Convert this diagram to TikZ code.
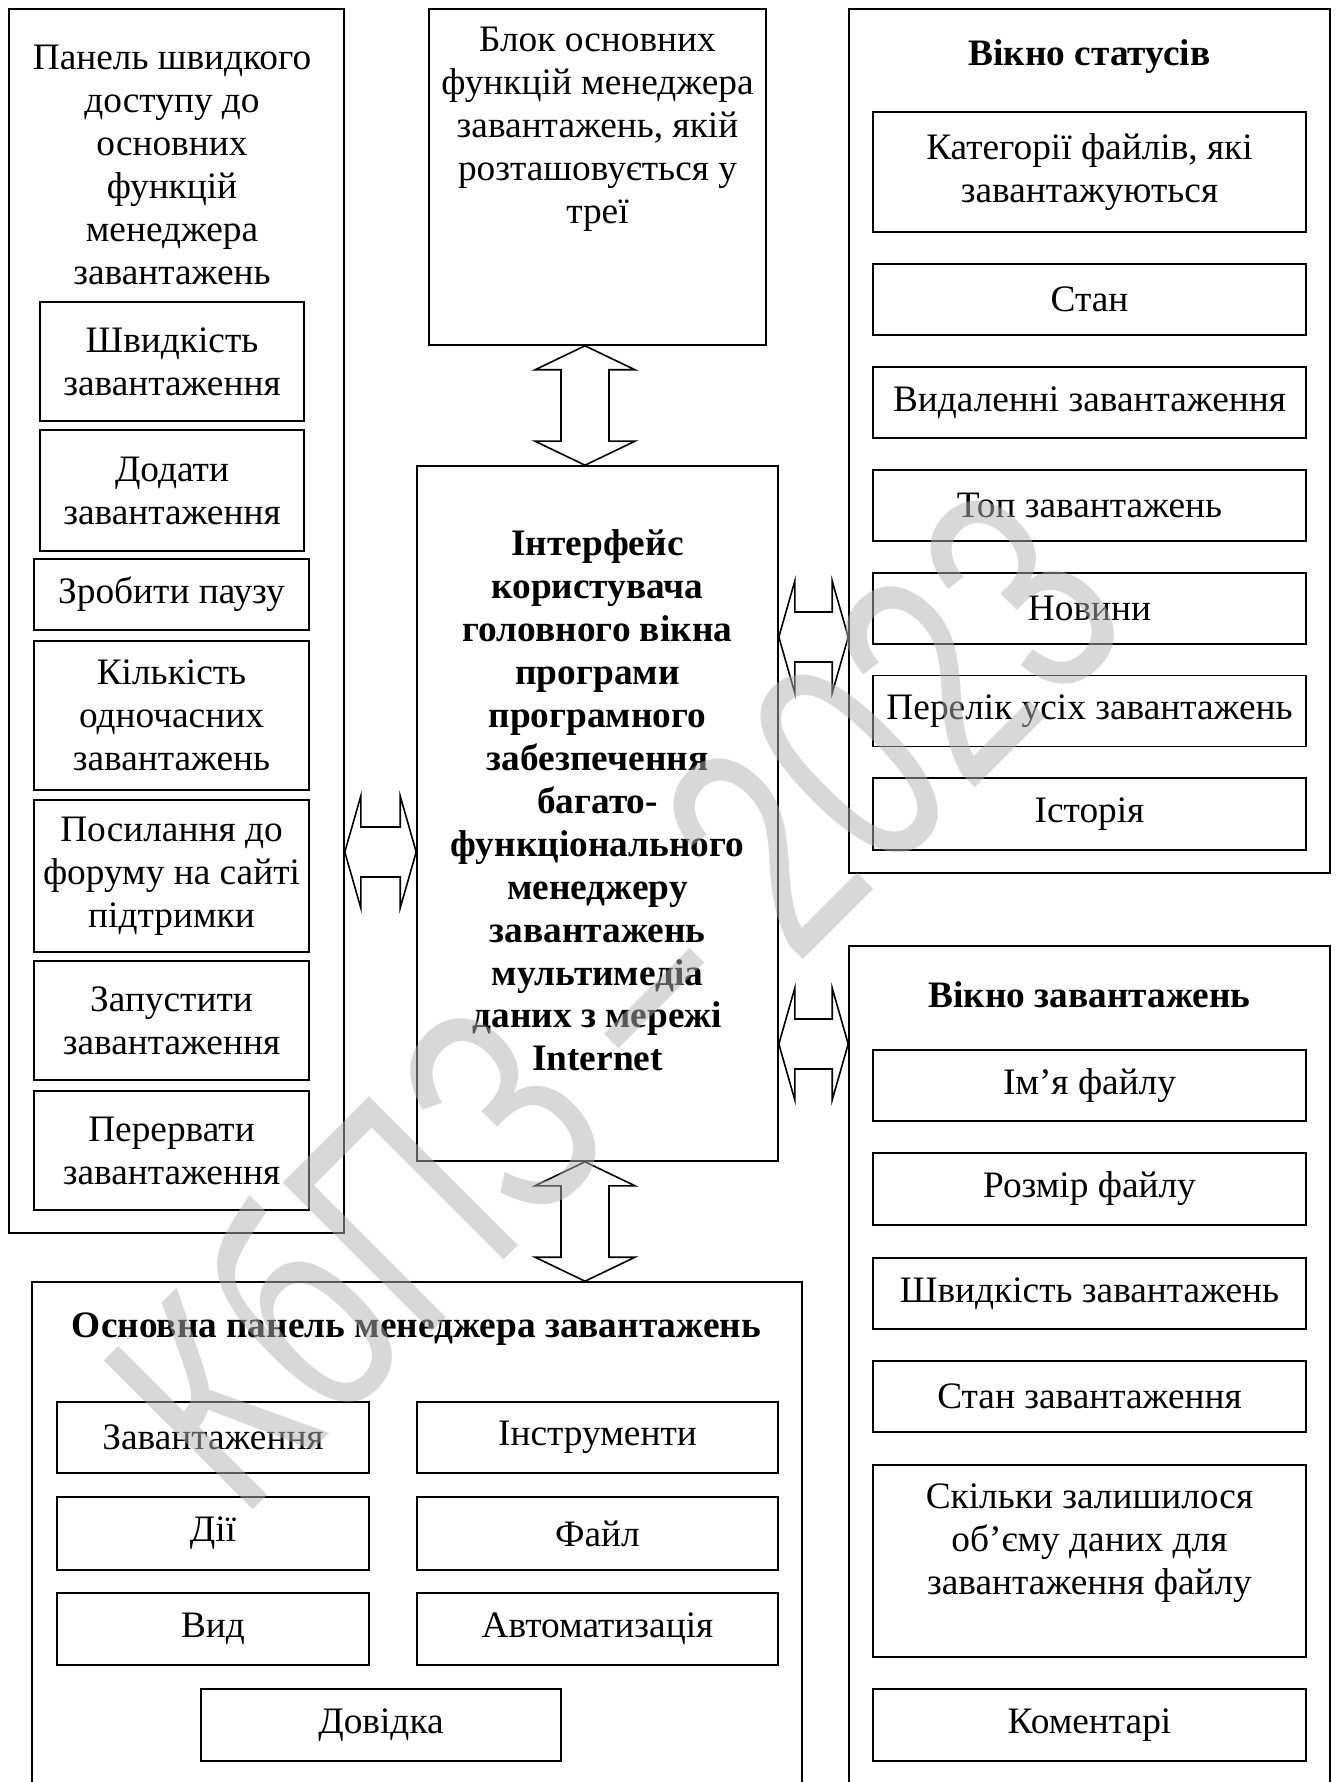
\documentclass[tikz,border=0pt]{standalone}
\usepackage{fontspec}
\setmainfont{Liberation Serif}
\newfontfamily\wmfont{Liberation Sans}
\usetikzlibrary{calc}
\newcommand\fsz{\fontsize{14}{16.1}\selectfont}
% vertical double block arrow: #1 x-coordinate, #2 upper anchor, #3 lower anchor
\newcommand\vdarr[3]{%
  \draw[blk] (#1|-#2) -- ++(50,24) -- ++(-26,0) -- ($(#1|-#3)+(24,-24)$) -- ++(26,0)
    -- (#1|-#3) -- ++(-50,-24) -- ++(26,0) -- ($(#1|-#2)+(-24,24)$) -- ++(-26,0) -- cycle;}
% horizontal double block arrow: #1 y-coordinate, #2 left anchor, #3 right anchor
\newcommand\hdarr[3]{%
  \draw[blk] (#2|-#1) -- ++(16,-56) -- ++(0,31) -- ($(#3|-#1)+(-16,-25)$) -- ++(0,-31)
    -- (#3|-#1) -- ++(-16,56) -- ++(0,-31) -- ($(#2|-#1)+(16,25)$) -- ++(0,31) -- cycle;}
\tikzset{
  bx/.style 2 args={draw, line width=0.6pt, inner sep=0pt, align=center, font=\fsz,
    minimum width=#1*0.375pt, minimum height=#2*0.375pt},
  txt/.style={inner sep=0pt, align=center, font=\fsz},
  ttl/.style={inner sep=0pt, align=center, font=\fsz\bfseries},
  blk/.style={draw, line width=0.6pt, line join=miter},
  wm/.style={inner sep=0pt, font=\wmfont\fontsize{82}{82}\selectfont, text=black!30, text opacity=0.5}
}
\begin{document}
\begin{tikzpicture}[x=0.375pt, y=-0.375pt]
\useasboundingbox (0,0) rectangle (1336,1782);
\clip (0,0) rectangle (1336,1782);

% ---------- left panel ----------
\node[bx={335}{1224}] (left) at (176.5,621) {};
\node[txt] (lefttitle) at (172,165) {Панель швидкого\\доступу до\\основних\\функцій\\менеджера\\завантажень};
\node[bx={264}{119}] (l1) at (172,361.5) {Швидкість\\завантаження};
\node[bx={264}{121}] (l2) at (172,490.5) {Додати\\завантаження};
\node[bx={275}{71}] (l3) at (171.5,594.5) {Зробити паузу};
\node[bx={275}{149}] (l4) at (171.5,715.5) {Кількість\\одночасних\\завантажень};
\node[bx={275}{152}] (l5) at (171.5,876) {Посилання до\\форуму на сайті\\підтримки};
\node[bx={275}{119}] (l6) at (171.5,1020.5) {Запустити\\завантаження};
\node[bx={275}{119}] (l7) at (171.5,1150.5) {Перервати\\завантаження};

% ---------- tray block ----------
\node[bx={337}{336}] (tray) at (597.5,177) {};
\node[txt] (traytxt) at (597.5,129.5) {Блок основних\\функцій менеджера\\завантажень, якій\\розташовується у\\треї};

% ---------- interface ----------
\node[bx={361}{695}] (iface) at (597.5,813.5) {};
\node[ttl] (ifacetxt) at (597.5,800.5) {Інтерфейс\\користувача\\головного вікна\\програми\\програмного\\забезпечення\\багато-\\функціонального\\менеджеру\\завантажень\\мультимедіа\\даних з мережі\\Internet};

% ---------- status window ----------
\node[bx={481}{864}] (status) at (1089.5,441) {};
\node[ttl] (stitle) at (1089.5,57) {Вікно статусів};
\node[bx={433}{120}] (s1) at (1089.5,172) {Категорії файлів, які\\завантажуються};
\node[bx={433}{71}] (s2) at (1089.5,299.5) {Стан};
\node[bx={433}{71}] (s3) at (1089.5,402.5) {Видаленні завантаження};
\node[bx={433}{71}] (s4) at (1089.5,505.5) {Топ завантажень};
\node[bx={433}{71}] (s5) at (1089.5,608.5) {Новини};
\node[bx={433}{71}] (s6) at (1089.5,711) {Перелік усіх завантажень};
\node[bx={433}{72}] (s7) at (1089.5,814) {Історія};

% ---------- downloads window ----------
\node[bx={481}{880}] (dl) at (1089.5,1386) {};
\node[ttl] (dtitle) at (1089.5,995) {Вікно завантажень};
\node[bx={433}{71}] (d1) at (1089.5,1085.5) {Ім’я файлу};
\node[bx={433}{72}] (d2) at (1089.5,1189) {Розмір файлу};
\node[bx={433}{71}] (d3) at (1089.5,1293.5) {Швидкість завантажень};
\node[bx={433}{71}] (d4) at (1089.5,1396.5) {Стан завантаження};
\node[bx={433}{192}] (d5) at (1089.5,1561) {};
\node[txt] (d5txt) at (1089.5,1543) {Скільки залишилося\\об’єму даних для\\завантаження файлу};
\node[bx={433}{72}] (d6) at (1089.5,1725) {Коментарі};

% ---------- main panel ----------
\node[bx={770}{540}] (main) at (417,1552) {};
\node[ttl] (mtitle) at (416.5,1329) {Основна панель менеджера завантажень};
\node[bx={312}{71}] (m1) at (213,1437.5) {Завантаження};
\node[bx={361}{71}] (m2) at (597.5,1437.5) {Інструменти};
\node[bx={312}{73}] (m3) at (213,1533.5) {Дії};
\node[bx={361}{73}] (m4) at (597.5,1533.5) {Файл};
\node[bx={312}{72}] (m5) at (213,1629) {Вид};
\node[bx={361}{72}] (m6) at (597.5,1629) {Автоматизація};
\node[bx={360}{72}] (m7) at (381,1725) {Довідка};

% ---------- block arrows ----------
\coordinate (ax) at (585,0);
\coordinate (ly) at (0,852);
\coordinate (ry1) at (0,637);
\coordinate (ry2) at (0,1044);
\vdarr{ax}{tray.south}{iface.north}
\vdarr{ax}{iface.south}{main.north}
\hdarr{ly}{left.east}{iface.west}
\hdarr{ry1}{iface.east}{status.west}
\hdarr{ry2}{iface.east}{dl.west}

% ---------- watermark ----------
\node[wm, rotate=45, yscale=1.4] (wmark) at (612,995) {КбПЗ – 2023};
\end{tikzpicture}
\end{document}
